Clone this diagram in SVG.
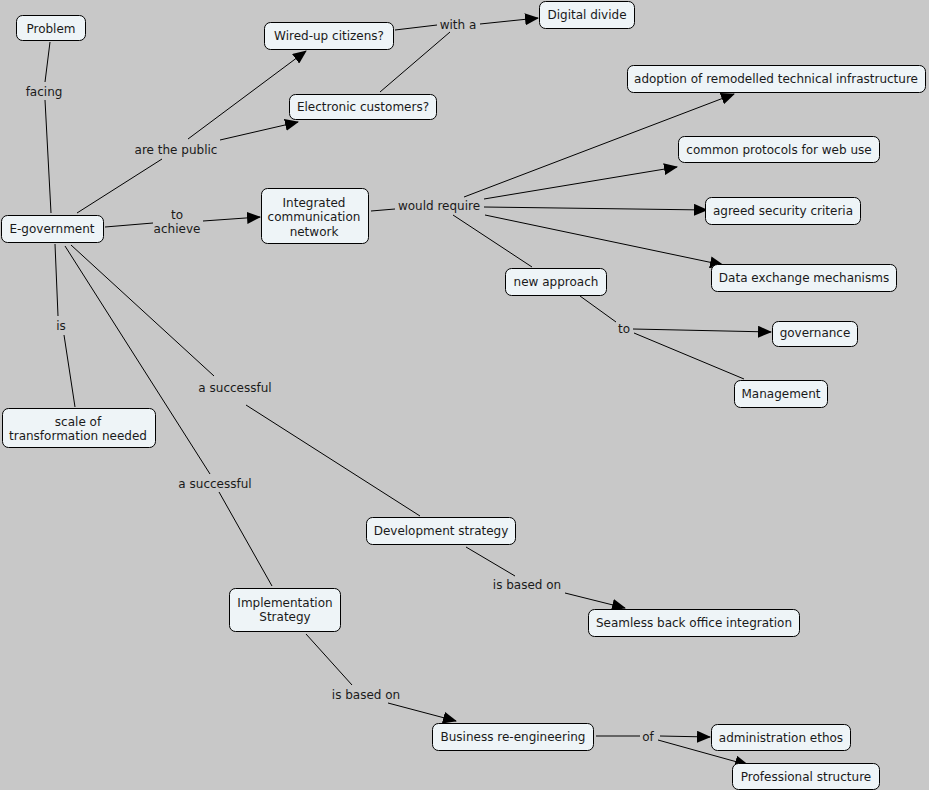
<svg xmlns="http://www.w3.org/2000/svg" width="929" height="790" viewBox="0 0 929 790">
<defs>
<style>
.n rect{fill:#eef4f7;stroke:#000;stroke-width:1}
text{font-family:"DejaVu Sans",Verdana,sans-serif;font-size:12px;fill:#1a1a1a;text-anchor:middle;dominant-baseline:central;transform:translate(0px,1px)}
.c line{stroke:#000;stroke-width:1}
.c .a{marker-end:url(#ah)}
</style>
<marker id="ah" markerUnits="userSpaceOnUse" markerWidth="14" markerHeight="12" viewBox="0 0 14 12" refX="13" refY="6" orient="auto">
<path d="M0,0 L14,6 L0,12 z" fill="#000"/>
</marker>
</defs>
<rect width="929" height="790" fill="#c8c8c8"/>
<g class="c" id="connectors">
<line x1="50" y1="42" x2="45" y2="82"/>
<line x1="45" y1="100" x2="51" y2="213"/>
<line x1="77" y1="213" x2="162" y2="159"/>
<line x1="188" y1="139" x2="306" y2="51" class="a"/>
<line x1="220" y1="140" x2="298" y2="122" class="a"/>
<line x1="105" y1="227" x2="153" y2="223"/>
<line x1="203" y1="221" x2="260" y2="217" class="a"/>
<line x1="395" y1="30" x2="437" y2="25"/>
<line x1="380" y1="92" x2="450" y2="32"/>
<line x1="480" y1="24" x2="538" y2="18" class="a"/>
<line x1="371" y1="211" x2="395" y2="209"/>
<line x1="464" y1="197" x2="734" y2="94" class="a"/>
<line x1="484" y1="199" x2="677" y2="167" class="a"/>
<line x1="484" y1="207" x2="707" y2="210" class="a"/>
<line x1="485" y1="215" x2="723" y2="265" class="a"/>
<line x1="453" y1="215" x2="532" y2="267"/>
<line x1="580" y1="296" x2="616" y2="322"/>
<line x1="633" y1="329" x2="771" y2="332" class="a"/>
<line x1="634" y1="333" x2="744" y2="379"/>
<line x1="55" y1="244" x2="58" y2="316"/>
<line x1="64" y1="335" x2="75" y2="407"/>
<line x1="71" y1="245" x2="214" y2="376"/>
<line x1="246" y1="405" x2="420" y2="516"/>
<line x1="65" y1="246" x2="210" y2="474"/>
<line x1="219" y1="492" x2="272" y2="586"/>
<line x1="466" y1="547" x2="515" y2="576"/>
<line x1="565" y1="593" x2="625" y2="608" class="a"/>
<line x1="306" y1="634" x2="352" y2="685"/>
<line x1="388" y1="703" x2="456" y2="721" class="a"/>
<line x1="596" y1="736" x2="640" y2="736"/>
<line x1="660" y1="736" x2="710" y2="737" class="a"/>
<line x1="658" y1="740" x2="748" y2="765" class="a"/>
</g>
<g id="link-labels">
<text x="44" y="91">facing</text>
<text x="176" y="149">are the public</text>
<text x="177" y="214">to</text>
<text x="177" y="228">achieve</text>
<text x="458" y="24">with a</text>
<text x="439" y="205">would require</text>
<text x="624" y="328">to</text>
<text x="61" y="325">is</text>
<text x="235" y="387">a successful</text>
<text x="215" y="483">a successful</text>
<text x="527" y="584">is based on</text>
<text x="366" y="694">is based on</text>
<text x="648" y="736">of</text>
</g>
<g class="n" id="n-problem"><rect x="16.5" y="15.5" width="69" height="25" rx="6"/><text x="51" y="28">Problem</text></g>
<g class="n" id="n-wired"><rect x="264.5" y="22.5" width="129" height="27" rx="6"/><text x="329" y="35">Wired-up citizens?</text></g>
<g class="n" id="n-digital"><rect x="539.5" y="1.5" width="95" height="27" rx="6"/><text x="587" y="14">Digital divide</text></g>
<g class="n" id="n-electronic"><rect x="289.5" y="94.5" width="147" height="25" rx="6"/><text x="363" y="106">Electronic customers?</text></g>
<g class="n" id="n-adoption"><rect x="627.5" y="65.5" width="298" height="27" rx="6"/><text x="776" y="78">adoption of remodelled technical infrastructure</text></g>
<g class="n" id="n-common"><rect x="678.5" y="136.5" width="201" height="26" rx="6"/><text x="779" y="149">common protocols for web use</text></g>
<g class="n" id="n-agreed"><rect x="705.5" y="197.5" width="155" height="27" rx="6"/><text x="783" y="210">agreed security criteria</text></g>
<g class="n" id="n-data"><rect x="711.5" y="264.5" width="185" height="27" rx="6"/><text x="804" y="277">Data exchange mechanisms</text></g>
<g class="n" id="n-newapproach"><rect x="505.5" y="268.5" width="101" height="27" rx="6"/><text x="556" y="281">new approach</text></g>
<g class="n" id="n-governance"><rect x="772.5" y="321.5" width="85" height="25" rx="6"/><text x="815" y="332">governance</text></g>
<g class="n" id="n-management"><rect x="734.5" y="380.5" width="93" height="27" rx="6"/><text x="781" y="393">Management</text></g>
<g class="n" id="n-egov"><rect x="1.5" y="215.5" width="102" height="27" rx="6"/><text x="52" y="228">E-government</text></g>
<g class="n" id="n-integrated"><rect x="261.5" y="188.5" width="107" height="55" rx="6"/><text x="314" y="202">Integrated</text><text x="314" y="216">communication</text><text x="314" y="231">network</text></g>
<g class="n" id="n-scale"><rect x="2.5" y="408.5" width="153" height="39" rx="6"/><text x="78" y="421">scale of</text><text x="78" y="435">transformation needed</text></g>
<g class="n" id="n-development"><rect x="366.5" y="517.5" width="149" height="27" rx="6"/><text x="441" y="530">Development strategy</text></g>
<g class="n" id="n-implementation"><rect x="229.5" y="588.5" width="111" height="43" rx="6"/><text x="285" y="602">Implementation</text><text x="285" y="616">Strategy</text></g>
<g class="n" id="n-seamless"><rect x="588.5" y="609.5" width="211" height="27" rx="6"/><text x="694" y="622">Seamless back office integration</text></g>
<g class="n" id="n-business"><rect x="432.5" y="723.5" width="161" height="27" rx="6"/><text x="513" y="736">Business re-engineering</text></g>
<g class="n" id="n-admin"><rect x="711.5" y="724.5" width="139" height="26" rx="6"/><text x="781" y="737">administration ethos</text></g>
<g class="n" id="n-professional"><rect x="732.5" y="763.5" width="147" height="26" rx="6"/><text x="806" y="776">Professional structure</text></g>
</svg>
